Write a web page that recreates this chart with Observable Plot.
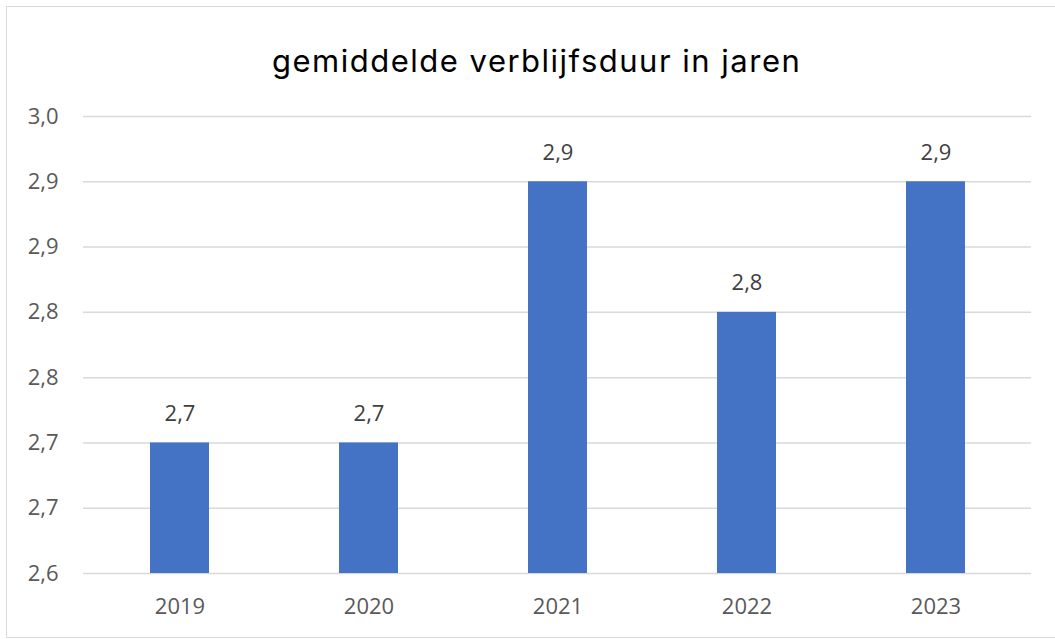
<!DOCTYPE html>
<html>
<head>
<meta charset="utf-8">
<script src="https://cdn.jsdelivr.net/npm/d3@7"></script>
<script src="https://cdn.jsdelivr.net/npm/@observablehq/plot@0.6"></script>
<style>
  html, body { margin: 0; padding: 0; background: #fff; }
  #wrap { position: relative; width: 1055px; height: 639px; overflow: hidden; }
  #frame { position: absolute; left: 6px; top: 6px; width: 1070px; height: 632px; border: 1.5px solid #dadada; box-sizing: border-box; }
  #title { position: absolute; left: 272px; top: 42px; white-space: nowrap; letter-spacing: 1.5px;
           font-family: Inter, "Open Sans", sans-serif; font-size: 31px; color: #000; font-weight: 400; }
  #chart { position: absolute; left: 0; top: 100px; }
</style>
</head>
<body>
<div id="wrap">
  <div id="frame"></div>
  <div id="title">gemiddelde verblijfsduur in jaren</div>
  <div id="chart"></div>
</div>
<script>
const years = ["2019", "2020", "2021", "2022", "2023"];
const values = [2.7, 2.7, 2.9, 2.8, 2.9];
const valueLabels = ["2,7", "2,7", "2,9", "2,8", "2,9"];
const yTicks = [2.6, 2.65, 2.7, 2.75, 2.8, 2.85, 2.9, 2.95];
const yTickLabels = ["2,6", "2,7", "2,7", "2,8", "2,8", "2,9", "2,9", "3,0"];

const data = years.map((y, i) => ({year: y, value: values[i], label: valueLabels[i]}));

const chart = Plot.plot({
  width: 1055,
  height: 539,
  marginTop: 16,
  marginBottom: 66,
  marginLeft: 83,
  marginRight: 24,
  style: {fontFamily: "'Open Sans', sans-serif", fontSize: "22px", color: "#595959", background: "transparent"},
  x: {domain: years, paddingInner: 0.69, paddingOuter: 0.345, label: null},
  y: {domain: [2.6, 2.95], label: null},
  marks: [
    Plot.ruleY(yTicks, {stroke: "#d9d9d9", strokeWidth: 1.5}),
    Plot.barY(data, {x: "year", y1: 2.6, y2: "value", fill: "#4472C4"}),
    Plot.text(data, {x: "year", y: "value", text: "label", dy: -29, fill: "#404040", fontSize: 22}),
    Plot.axisX({tickSize: 0, tickPadding: 25, fontSize: 22, fill: "#595959"}),
    Plot.axisY({ticks: yTicks, tickSize: 0, tickPadding: 25, tickFormat: (d) => yTickLabels[yTicks.indexOf(d)], fontSize: 22, fill: "#595959"})
  ]
});
document.getElementById("chart").appendChild(chart);
</script>
</body>
</html>
